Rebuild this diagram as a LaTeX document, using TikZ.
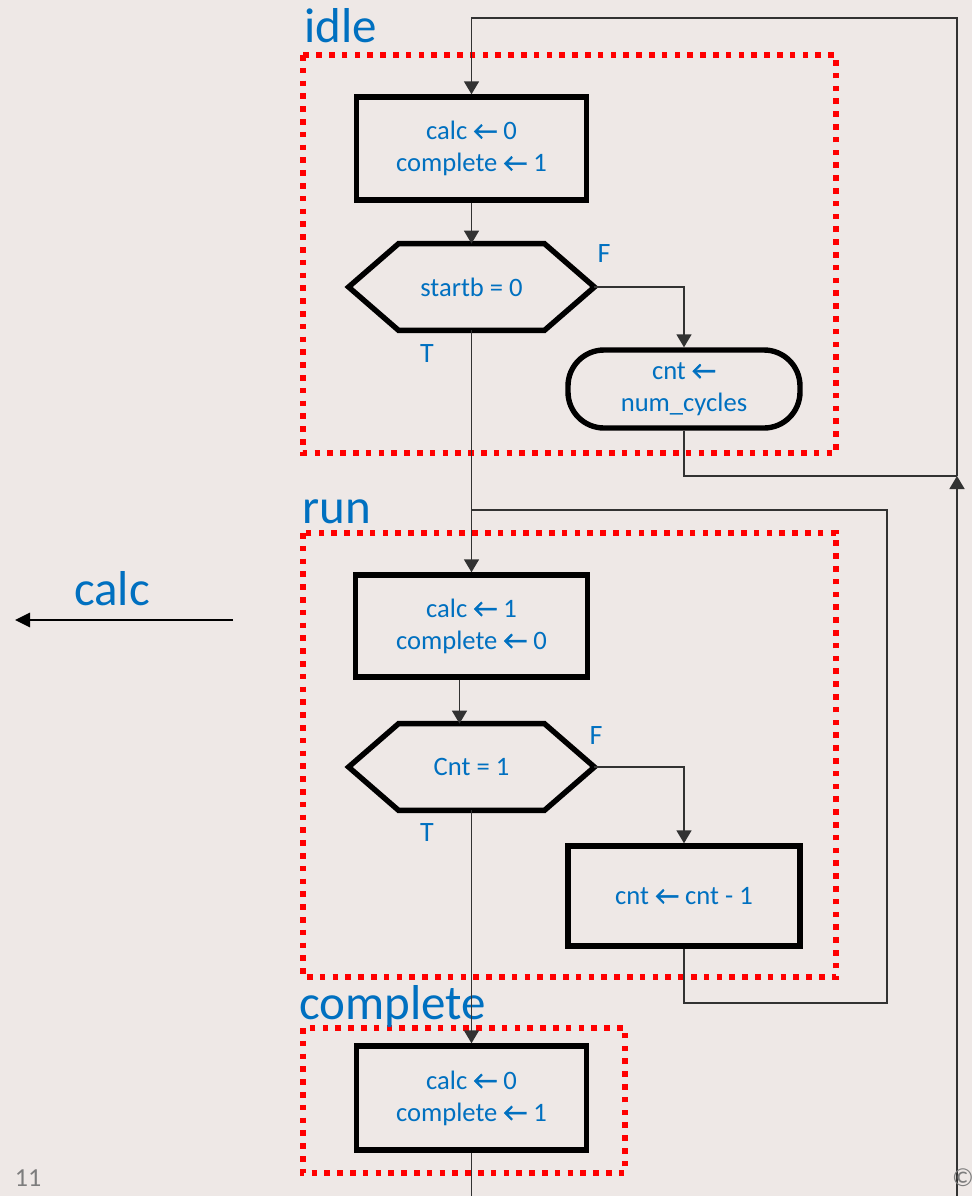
\documentclass[tikz,border=0pt]{standalone}
\usepackage{fontspec}
\setmainfont{Carlito}
\usetikzlibrary{arrows.meta,calc}
\definecolor{bg}{RGB}{238,232,230}
\definecolor{txtblue}{RGB}{0,112,192}
\definecolor{wirecol}{RGB}{50,50,50}
\definecolor{pagegray}{RGB}{125,125,125}
\newcommand{\lar}{{\addfontfeature{FakeBold=1.6}\char"2190}}
\tikzset{
  stepbox/.style={draw=black, line width=2.7pt, minimum width=115pt, minimum height=51.5pt,
    align=center, text=txtblue, font=\fontsize{13.3}{16}\selectfont, inner sep=0pt},
  loadbox/.style={stepbox, rounded corners=18pt, minimum width=116pt, minimum height=39pt},
  decision/.style={minimum width=122.5pt, minimum height=43pt, inner sep=0pt,
    text=txtblue, font=\fontsize{13.3}{16}\selectfont},
  hexline/.style={line width=2.7pt, line join=miter},
  stateframe/.style={draw=red, line width=2.7pt, dash pattern=on 2.8pt off 3.6pt},
  wire/.style={draw=wirecol, line width=0.8pt},
  tip/.style={-{Triangle[length=6.5pt,width=7.5pt]}},
  flag/.style={text=txtblue, font=\fontsize{14}{16}\selectfont, inner sep=0pt},
  statename/.style={text=txtblue, font=\fontsize{24.5}{28}\selectfont, anchor=base west, inner sep=0pt},
  pagemark/.style={text=pagegray, font=\fontsize{13}{15}\selectfont, inner sep=0pt}
}
\begin{document}
\begin{tikzpicture}[x=0.5pt,y=-0.5pt]
  \fill[bg] (0,0) rectangle (972,1196);
  \useasboundingbox (0,0) rectangle (972,1196);

  % state frames
  \draw[stateframe] (303,55) rectangle (836,453);
  \draw[stateframe] (303,533) rectangle (836,977);
  \draw[stateframe] (303,1028) rectangle (625,1173);
  \node[statename] (lidle) at (304,42) {idle};
  \node[statename] (lrun) at (302,523) {run};
  \node[statename] (lcomplete) at (299,1019) {complete};

  % idle state
  \node[stepbox] (b1) at (471.5,148.5) {calc \lar{} 0\\complete \lar{} 1};
  \node[decision] (h1) at (471.5,287) {startb = 0};
  \draw[hexline] (h1.west) -- ([xshift=25pt]h1.north west) -- ([xshift=-25pt]h1.north east)
    -- (h1.east) -- ([xshift=-25pt]h1.south east) -- ([xshift=25pt]h1.south west) -- cycle;
  \node[loadbox] (st) at (684,389) {cnt \lar\\num\_cycles};
  \node[flag] (f1) at (604,254) {F};
  \node[flag] (t1) at (427,354) {T};

  % run state
  \node[stepbox, minimum width=116pt, minimum height=51pt] (b2) at (471.5,626) {calc \lar{} 1\\complete \lar{} 0};
  \node[decision] (h2) at (471.5,767) {Cnt = 1};
  \draw[hexline] (h2.west) -- ([xshift=25pt]h2.north west) -- ([xshift=-25pt]h2.north east)
    -- (h2.east) -- ([xshift=-25pt]h2.south east) -- ([xshift=25pt]h2.south west) -- cycle;
  \node[stepbox, minimum width=116pt, minimum height=50pt] (b3) at (684,896) {cnt \lar{} cnt - 1};
  \node[flag] (f2) at (596,736) {F};
  \node[flag] (t2) at (427,833) {T};

  % complete state
  \node[stepbox, minimum height=52pt] (b4) at (471.5,1098) {calc \lar{} 0\\complete \lar{} 1};

  % routing points
  \coordinate (j1) at (957,476);
  \coordinate (tr) at (957,18);
  \coordinate (bot) at (957,1196);
  \coordinate (j2) at (471.5,510);
  \coordinate (c1) at (887,1003);
  \coordinate (b4end) at (471.5,1196);

  % connectors
  \draw[wire] (st.south) |- (j1);
  \draw[wire, tip] (bot) -- (j1);
  \draw[wire, tip] (j1) -- (tr) -| (b1.north);
  \draw[wire, tip] (b1.south) -- (h1.north);
  \draw[wire, tip] (h1.east) -| (st.north);
  \draw[wire, tip] (h1.south) -- (b2.north);
  \draw[wire] (b3.south) |- (c1) |- (j2);
  \draw[wire, tip] ([xshift=-6pt]b2.south) -- ([xshift=-6pt]h2.north);
  \draw[wire, tip] (h2.east) -| (b3.north);
  \draw[wire, tip] (h2.south) -- (b4.north);
  \draw[wire] (b4.south) -- (b4end);

  % output signal
  \node[text=txtblue, font=\fontsize{24.5}{28}\selectfont, anchor=base, inner sep=0pt] (calcout) at (112,605) {calc};
  \coordinate (os) at (233,620);
  \coordinate (oe) at (15,620);
  \draw[black, line width=1.4pt, -{Triangle[length=7.5pt,width=7pt]}] (os) -- (oe);

  % page marks
  \node[pagemark, anchor=base] (pnum) at (28,1186) {11};
  \node[pagemark, anchor=base] (copy) at (963,1186) {©};
\end{tikzpicture}
\end{document}
